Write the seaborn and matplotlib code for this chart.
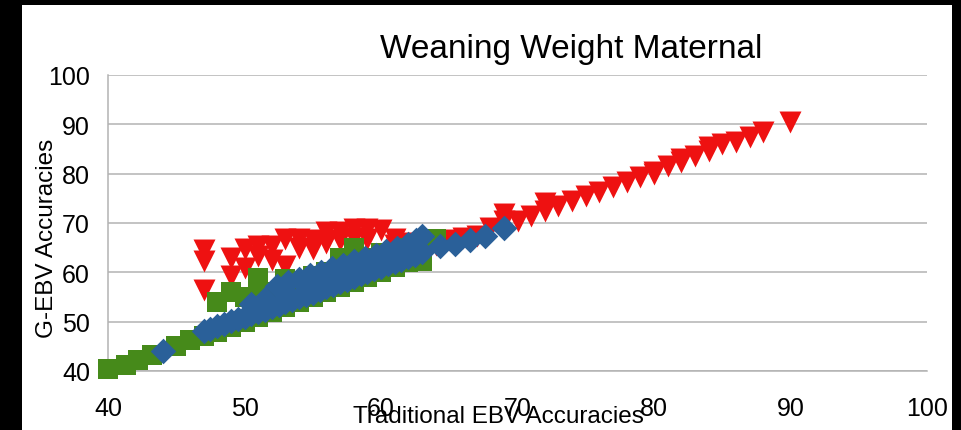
import numpy as np
import pandas as pd
import matplotlib
matplotlib.use("Agg")
import matplotlib.pyplot as plt
from matplotlib.patches import Rectangle
import seaborn as sns

# series
red_x = [47, 47, 47, 49, 49, 50, 50, 51, 51, 52, 52, 53, 53, 54, 54, 55, 55,
         56, 56, 57, 57, 58, 58, 59, 59, 60, 61, 61, 62, 63, 64, 65, 66, 67,
         68, 69, 69, 70, 71, 72, 72, 73, 74, 75, 76, 77, 78, 79, 80, 80, 81,
         82, 82, 83, 84, 84, 85, 86, 87, 88, 90]
red_y = [64.5, 62.2, 56.5, 63.0, 59.3, 64.8, 60.8, 65.4, 63.3, 65.4, 62.5,
         66.8, 61.3, 66.8, 65.0, 64.7, 66.5, 68.2, 66.0, 68.2, 66.5, 68.8,
         67.0, 68.8, 66.8, 68.6, 66.8, 65.5, 66.0, 65.5, 65.6, 66.5, 67.0,
         67.3, 69.0, 71.8, 70.4, 70.4, 71.4, 72.5, 74.0, 73.5, 74.5, 75.5,
         76.3, 77.3, 78.3, 79.3, 80.4, 80.0, 81.6, 83.0, 82.3, 83.6, 85.4,
         84.6, 86.0, 86.5, 87.5, 88.5, 90.5]

green_x = [40, 41.3, 42.2, 43.2, 45, 46, 47, 48, 49, 50, 51, 52, 53, 54, 55,
           56, 57, 58, 59, 60, 61, 62, 63, 48, 49, 50, 51, 51, 52, 53, 53, 54,
           55, 56, 57, 57, 58, 58, 59, 60, 61, 62, 64]
green_y = [40.4, 41.3, 42.3, 43.3, 45.1, 46.3, 47, 48, 49, 50, 51, 52, 53,
           54, 55, 56, 57, 58, 59, 60, 61, 62, 62.3, 54, 56, 55, 57, 58.9, 56,
           58.7, 57, 58, 59.3, 60, 62.3, 63, 64.9, 63, 63, 64, 64, 65, 66.8]

blue_x = [44, 47, 47.5, 48, 48.5, 49, 49.5, 50, 50.5, 51, 51.5, 52, 52.5, 53,
          53.5, 54, 54.5, 55, 55.5, 56, 56.5, 57, 57.5, 58, 58.5, 59, 59.5,
          60, 60.5, 61, 61.5, 62, 62.5, 63,
          52.4, 53.2, 54, 54.8, 55.6, 56.4, 57.2, 58, 58.8, 59.6, 60.4, 61.2,
          62, 62.6, 63,
          50.5, 51.5, 53, 55, 57, 59, 61,
          64.3, 65.4, 66.5, 67.6, 69]
blue_y = [44, 48.1, 48.6, 49.1, 49.6, 50.2, 50.6, 51, 51.5, 52, 52.4, 52.9,
          53.4, 53.9, 54.4, 54.9, 55.4, 55.9, 56.5, 57, 57.5, 58, 58.5, 59,
          59.6, 60.1, 60.6, 61.1, 61.6, 62.1, 62.6, 63.1, 63.6, 64.1,
          57.3, 58, 58.7, 59.4, 60.1, 60.8, 61.5, 62.2, 62.9, 63.6, 64.3,
          65, 65.8, 66.6, 67.4,
          53.5, 54.5, 56, 58, 59.5, 61.5, 63.5,
          65.3, 65.8, 66.5, 67.3, 69]

title = "Weaning Weight Maternal"
xlabel = "Traditional EBV Accuracies"
ylabel = "G-EBV Accuracies"

sns.set_style("white")
plt.rcParams["font.family"] = ["Liberation Sans", "DejaVu Sans"]

W, H = 962, 431
fig = plt.figure(figsize=(W / 100, H / 100), dpi=100, facecolor="black")
fig.patches.append(Rectangle((22 / W, 0), 930 / W, 425 / H,
                             transform=fig.transFigure, facecolor="white",
                             edgecolor="none", zorder=-10))

ax = fig.add_axes([108 / W, (H - 372) / H, 819 / W, 296 / H])
ax.set_zorder(5)
ax.set_facecolor("white")

red_df = pd.DataFrame({"x": red_x, "y": red_y})
green_df = pd.DataFrame({"x": green_x, "y": green_y})
blue_df = pd.DataFrame({"x": blue_x, "y": blue_y})

sns.scatterplot(data=red_df, x="x", y="y", marker="v", s=250,
                color="#ee1111", linewidth=0, ax=ax, zorder=3, clip_on=False)
sns.scatterplot(data=green_df, x="x", y="y", marker="s", s=200,
                color="#468a1a", linewidth=0, ax=ax, zorder=3, clip_on=False)
sns.scatterplot(data=blue_df, x="x", y="y", marker="D", s=170,
                color="#2a6099", linewidth=0, ax=ax, zorder=4, clip_on=False)

ax.set_xlim(40, 100)
ax.set_ylim(40, 100)
ax.set_xticks(np.arange(40, 101, 10))
ax.set_yticks(np.arange(40, 101, 10))
ax.yaxis.grid(True, color="#b3b3b3", linewidth=1.1)
ax.set_axisbelow(True)
ax.set_xlabel("")
ax.set_ylabel("")

for side in ["top", "right"]:
    ax.spines[side].set_visible(False)
for side in ["left", "bottom"]:
    ax.spines[side].set_color("#b3b3b3")
    ax.spines[side].set_linewidth(1.1)

ax.tick_params(axis="both", which="major", direction="out", length=8,
               width=1.1, color="#b3b3b3", labelsize=18, labelcolor="black")
ax.tick_params(axis="x", pad=10)
ax.tick_params(axis="y", pad=5)

fig.text(571 / W, 1 - 58 / H, title, ha="center", va="baseline",
         fontsize=24, color="black")
fig.text(498 / W, 1 - 423 / H, xlabel, ha="center", va="baseline",
         fontsize=17.5, color="black", zorder=10)
fig.text(53 / W, 1 - 238 / H, ylabel, ha="center", va="baseline",
         rotation=90, rotation_mode="anchor", fontsize=17.5, color="black")

fig.savefig("out.png", dpi=100, facecolor="black")
